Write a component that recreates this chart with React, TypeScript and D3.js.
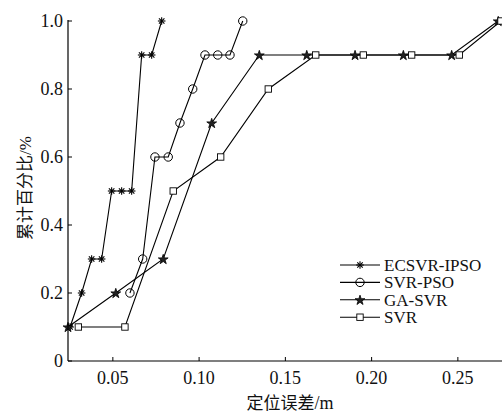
import React from "react";
import * as d3 from "d3";

const W = 502;
const H = 413;

const xTicks = [0.05, 0.1, 0.15, 0.2, 0.25];
const xTickLabels = ["0.05", "0.10", "0.15", "0.20", "0.25"];
const yTicks = [0, 0.2, 0.4, 0.6, 0.8, 1.0];
const yTickLabels = ["0", "0.2", "0.4", "0.6", "0.8", "1.0"];

const seriesNames = ["ECSVR-IPSO", "SVR-PSO", "GA-SVR", "SVR"];

const ecsvrX = [0.0252, 0.0319, 0.0377, 0.0435, 0.0493, 0.0551, 0.0609, 0.0667, 0.0725, 0.0783];
const ecsvrY = [0.1, 0.2, 0.3, 0.3, 0.5, 0.5, 0.5, 0.9, 0.9, 1.0];

const svrPsoX = [0.0599, 0.0673, 0.0744, 0.0821, 0.0889, 0.0963, 0.1034, 0.1108, 0.1179, 0.1253];
const svrPsoY = [0.2, 0.3, 0.6, 0.6, 0.7, 0.8, 0.9, 0.9, 0.9, 1.0];

const gaSvrX = [0.024, 0.0517, 0.0792, 0.1073, 0.1349, 0.1624, 0.1904, 0.2184, 0.2464, 0.2734];
const gaSvrY = [0.1, 0.2, 0.3, 0.7, 0.9, 0.9, 0.9, 0.9, 0.9, 1.0];

const svrX = [0.03, 0.057, 0.085, 0.1125, 0.1401, 0.1676, 0.1952, 0.2232, 0.2508, 0.275];
const svrY = [0.1, 0.1, 0.5, 0.6, 0.8, 0.9, 0.9, 0.9, 0.9, 1.0];

const markers = ["asterisk", "circle", "star", "square"];

const plot = { left: 68, right: 501, top: 21, bottom: 361 };

const x = d3.scaleLinear().domain([0.024, 0.275]).range([plot.left, plot.right]);
const y = d3.scaleLinear().domain([0, 1]).range([plot.bottom, plot.top]);

const serif = "Liberation Serif";
const cjk = "Noto Sans CJK SC";

const starPath = d3.symbol().type(d3.symbolStar).size(30)()!;

function Marker({ kind, cx, cy }: { kind: string; cx: number; cy: number }) {
  if (kind === "asterisk") {
    const r = 3.8;
    const d = r * 0.72;
    return (
      <g stroke="#000" strokeWidth={1.1}>
        <line x1={cx} y1={cy - r} x2={cx} y2={cy + r} />
        <line x1={cx - r} y1={cy} x2={cx + r} y2={cy} />
        <line x1={cx - d} y1={cy - d} x2={cx + d} y2={cy + d} />
        <line x1={cx - d} y1={cy + d} x2={cx + d} y2={cy - d} />
      </g>
    );
  }
  if (kind === "circle") {
    return <circle cx={cx} cy={cy} r={4.2} fill="none" stroke="#000" strokeWidth={1} />;
  }
  if (kind === "star") {
    return (
      <path
        d={starPath}
        transform={`translate(${cx},${cy + 0.5})`}
        fill="#222"
        stroke="#000"
        strokeWidth={0.8}
      />
    );
  }
  return <rect x={cx - 3.2} y={cy - 3.2} width={6.4} height={6.4} fill="#fff" stroke="#000" strokeWidth={0.9} />;
}

export default function App() {
  const series = [
    { xs: ecsvrX, ys: ecsvrY },
    { xs: svrPsoX, ys: svrPsoY },
    { xs: gaSvrX, ys: gaSvrY },
    { xs: svrX, ys: svrY },
  ];
  const line = d3
    .line<[number, number]>()
    .x((d) => x(d[0]))
    .y((d) => y(d[1]));

  const legendX1 = 340;
  const legendX2 = 380;
  const legendY0 = 265;
  const legendDY = 17.4;

  const serifStyle = { fontFamily: serif };
  const cjkStyle = { fontFamily: cjk };

  return (
    <svg width={W} height={H} style={{ position: "absolute", left: 0, top: 0, background: "#fff" }}>
      <rect x={0} y={0} width={W} height={H} fill="#fff" />
      {series.map((s, i) => (
        <path
          key={"l" + i}
          d={line(s.xs.map((v, j) => [v, s.ys[j]] as [number, number]))!}
          fill="none"
          stroke="#000"
          strokeWidth={1.1}
        />
      ))}
      {series.map((s, i) =>
        s.xs.map((v, j) => <Marker key={`m${i}-${j}`} kind={markers[i]} cx={x(v)} cy={y(s.ys[j])} />)
      )}
      <line x1={plot.left} y1={plot.top - 1} x2={plot.left} y2={plot.bottom} stroke="#000" strokeWidth={1.2} />
      <line x1={plot.left} y1={plot.bottom} x2={W} y2={plot.bottom} stroke="#000" strokeWidth={1.2} />
      {yTicks.map((t, i) => (
        <g key={"yt" + i}>
          <line x1={plot.left} x2={plot.left + 4} y1={y(t)} y2={y(t)} stroke="#000" strokeWidth={1} />
          <text x={plot.left - 5} y={y(t)} dy="0.35em" textAnchor="end" fontSize={18} fill="#111" style={serifStyle}>
            {yTickLabels[i]}
          </text>
        </g>
      ))}
      {xTicks.map((t, i) => (
        <g key={"xt" + i}>
          <line x1={x(t)} x2={x(t)} y1={plot.bottom} y2={plot.bottom - 4} stroke="#000" strokeWidth={1} />
          <text x={x(t)} y={384} textAnchor="middle" fontSize={18} fill="#111" style={serifStyle}>
            {xTickLabels[i]}
          </text>
        </g>
      ))}
      <text x={290} y={409} textAnchor="middle" fontSize={17} fill="#111">
        <tspan style={cjkStyle}>定位误差</tspan>
        <tspan style={serifStyle} fontSize={18}>/m</tspan>
      </text>
      <text transform={`translate(31,188) rotate(-90)`} textAnchor="middle" fontSize={17} fill="#111">
        <tspan style={cjkStyle}>累计百分比</tspan>
        <tspan style={serifStyle}>/%</tspan>
      </text>
      {seriesNames.map((name, i) => {
        const ly = legendY0 + i * legendDY;
        return (
          <g key={"lg" + i}>
            <line x1={legendX1} x2={legendX2} y1={ly} y2={ly} stroke="#000" strokeWidth={1.1} />
            <Marker kind={markers[i]} cx={(legendX1 + legendX2) / 2} cy={ly} />
            <text x={384} y={ly} dy="0.35em" fontSize={17} fill="#111" style={serifStyle}>
              {name}
            </text>
          </g>
        );
      })}
    </svg>
  );
}
